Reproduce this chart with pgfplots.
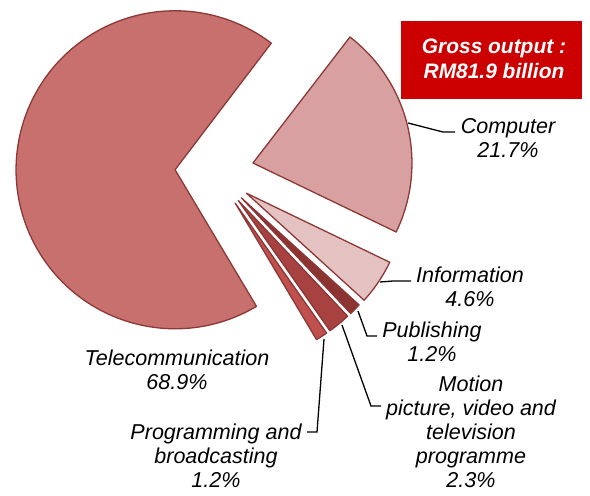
\documentclass[border=0pt]{standalone}
\usepackage{fontspec}
\setmainfont{Liberation Sans}
\usepackage{pgfplots}
\pgfplotsset{compat=1.18}

\definecolor{edge}{RGB}{140,56,54}
\definecolor{cTel}{RGB}{199,112,110}
\definecolor{cCom}{RGB}{216,160,160}
\definecolor{cInf}{RGB}{229,194,194}
\definecolor{cPub}{RGB}{140,52,50}
\definecolor{cMot}{RGB}{168,66,64}
\definecolor{cPro}{RGB}{192,80,77}
\definecolor{boxred}{RGB}{204,0,0}

\tikzset{lbl/.style={font=\fontsize{21.6}{24}\selectfont\itshape, align=center,
                     anchor=north, inner sep=0pt}}

% pie centre and radius, in picture pixels (y runs downwards)
\def\cx{215}\def\cy{172}\def\rad{159}

% #1 start angle, #2 share in %, #3 colour, #4 pull-out
\newcommand\slice[4]{%
  \filldraw[fill=#3, draw=edge, line width=1.3pt, line join=round]
    (axis cs:\cx,\cy) ++({#1-#2*1.8}:#4bp) -- ++({#1}:\rad bp)
    arc[start angle={#1}, end angle={#1-#2*3.6}, radius=\rad bp] -- cycle;}

% slices go clockwise from \startang
\newcommand\nextslice[3]{%
  \edef\tmp{\noexpand\slice{\startang}{#1}{#2}{#3}}\tmp
  \pgfmathsetmacro\startang{\startang-#1*3.6}}

\begin{document}
\begin{tikzpicture}
\begin{axis}[
  width=590bp, height=495bp,
  scale only axis,
  xmin=0, xmax=590, ymin=0, ymax=495,
  y dir=reverse,
  hide axis, clip=false]

\def\startang{52.4}
\nextslice{21.7}{cCom}{39}   % Computer
\nextslice{4.6}{cInf}{38}    % Information
\nextslice{1.2}{cPub}{37}    % Publishing
\nextslice{2.3}{cMot}{37}    % Motion picture, video and television programme
\nextslice{1.2}{cPro}{37}    % Programming and broadcasting
\nextslice{68.9}{cTel}{40}   % Telecommunication

% ---- leader lines ----
\draw[black, line width=1.3pt]
  (axis cs:408,123) -- (axis cs:443,132) -- (axis cs:455,132);
\draw[black, line width=1.3pt]
  (axis cs:380,282) -- (axis cs:393,281) -- (axis cs:411,281);
\draw[black, line width=1.3pt]
  (axis cs:358,311) -- (axis cs:367,336) -- (axis cs:377,336);
\draw[black, line width=1.3pt]
  (axis cs:342,325) -- (axis cs:371,406) -- (axis cs:381,406);
\draw[black, line width=1.3pt]
  (axis cs:324,339) -- (axis cs:317,432) -- (axis cs:307,432);

% ---- labels ----
\node[lbl] at (axis cs:508,118) {Computer\\21.7\%};
\node[lbl] at (axis cs:470,267) {Information\\4.6\%};
\node[lbl] at (axis cs:432,322) {Publishing\\1.2\%};
\node[lbl] at (axis cs:471,376)
  {Motion\\picture, video and\\television\\programme\\2.3\%};
\node[lbl] at (axis cs:216,424) {Programming and\\broadcasting\\1.2\%};
\node[lbl] at (axis cs:177,350) {Telecommunication\\68.9\%};

% ---- total box ----
\fill[boxred] (axis cs:401,21) rectangle (axis cs:582,99);
\node[lbl, text=white, font=\fontsize{21}{25}\selectfont\bfseries\itshape]
  at (axis cs:494,39) {Gross output :\\RM81.9 billion};
\end{axis}
\pgfresetboundingbox
\path (current axis.south west) rectangle (current axis.north east);
\end{tikzpicture}
\end{document}
